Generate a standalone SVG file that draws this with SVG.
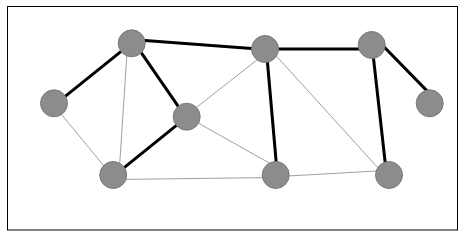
<svg xmlns="http://www.w3.org/2000/svg" width="467" height="238" viewBox="0 0 467 238">
<style>
.n{fill:#8c8c8c;stroke:#7a7a7a;stroke-width:1}
.t{stroke:#000;stroke-width:3}
.w{stroke:#a0a0a0;stroke-width:1}
</style>
<rect x="0" y="0" width="467" height="238" fill="#fff"/>
<rect x="7.5" y="6.5" width="450" height="223.5" fill="none" stroke="#000" stroke-width="1"/>
<g id="connectors">
<line class="w" x1="127.6" y1="43.3" x2="119" y2="175"/>
<line class="w" x1="54" y1="105.4" x2="113.3" y2="177.4"/>
<line class="w" x1="186.7" y1="115" x2="265" y2="53.7"/>
<line class="w" x1="186.7" y1="116.5" x2="275.7" y2="166.7"/>
<line class="w" x1="112.7" y1="179.5" x2="275.7" y2="177.5"/>
<line class="w" x1="265" y1="43.5" x2="389" y2="180"/>
<line class="w" x1="275.7" y1="176.7" x2="389" y2="170.3"/>
<line class="t" x1="131.7" y1="42.9" x2="54" y2="105.4"/>
<line class="t" x1="131.7" y1="38.8" x2="186.7" y2="118.7"/>
<line class="t" x1="186.7" y1="117.1" x2="113.3" y2="176.4"/>
<line class="t" x1="131.7" y1="39.6" x2="265" y2="49.5"/>
<line class="t" x1="265" y1="49" x2="371.7" y2="49"/>
<line class="t" x1="266.3" y1="49" x2="277.3" y2="175"/>
<line class="t" x1="372" y1="45" x2="386.6" y2="175"/>
<line class="t" x1="371.7" y1="34.2" x2="429.7" y2="93.6"/>
</g>
<g id="nA"><circle class="n" cx="131.7" cy="43.3" r="13.5"/></g>
<g id="nB"><circle class="n" cx="54" cy="103.3" r="13.5"/></g>
<g id="nC"><circle class="n" cx="186.7" cy="116.7" r="13.5"/></g>
<g id="nD"><circle class="n" cx="113.2" cy="175" r="13.5"/></g>
<g id="nE"><circle class="n" cx="265" cy="49" r="13.5"/></g>
<g id="nF"><circle class="n" cx="371.7" cy="45" r="13.5"/></g>
<g id="nG"><circle class="n" cx="429.7" cy="103.3" r="13.5"/></g>
<g id="nH"><circle class="n" cx="275.7" cy="175" r="13.5"/></g>
<g id="nI"><circle class="n" cx="389" cy="175" r="13.5"/></g>
</svg>
